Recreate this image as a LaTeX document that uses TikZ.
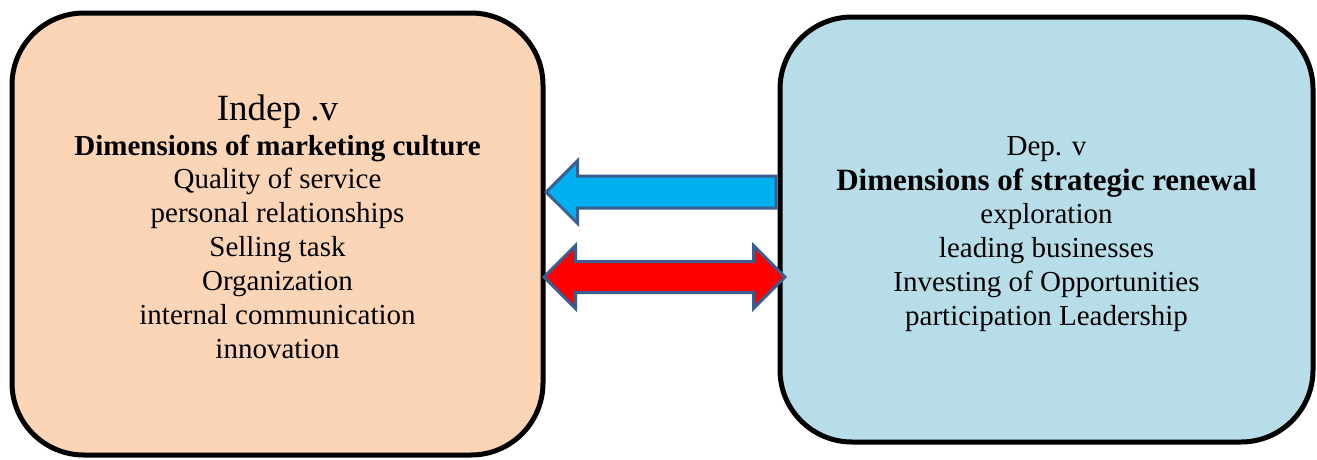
\documentclass[tikz,border=0pt]{standalone}
\usepackage{fontspec}
\setmainfont{Liberation Serif}
\usetikzlibrary{shapes.arrows}
\definecolor{peach}{HTML}{FBD5B5}
\definecolor{paleblue}{HTML}{B7DEE8}
\definecolor{skyblue}{HTML}{00B0F0}
\definecolor{arrowedge}{HTML}{3C5E8E}
\begin{document}
\begin{tikzpicture}[x=1pt,y=-1pt,
	varbox/.style={draw,line width=5pt,rounded corners=72pt,inner sep=0pt},
	line/.style={anchor=base,inner sep=0pt,font=\fontsize{29}{34}\selectfont},
	blockarrow/.style={draw=arrowedge,line width=3pt,inner xsep=0pt}]
	\useasboundingbox (0,0) rectangle (1317,459);
	\node[varbox,fill=peach,minimum width=531pt,minimum height=442pt] (indep) at (277.5,234) {};
	\node[varbox,fill=paleblue,minimum width=533pt,minimum height=425pt] (dep) at (1046.5,229.5) {};
	\node[line,font=\fontsize{37}{40}\selectfont] (indeptitle) at (277.5,120) {Indep .v};
	\node[line,font=\fontsize{29}{34}\selectfont\bfseries] (indephead) at (277.5,155) {Dimensions of marketing culture};
	\foreach \txt [count=\i] in {Quality of service,personal relationships,Selling task,Organization,internal communication,innovation}
		\node[line] (indep\i) at (277.5,154+34*\i) {\txt};
	\node[line] (deptitle) at (1046.5,155) {Dep. v};
	\node[line,font=\fontsize{31}{36}\selectfont\bfseries] (dephead) at (1046.5,190) {Dimensions of strategic renewal};
	\foreach \txt [count=\i] in {exploration,leading businesses,Investing of Opportunities,participation Leadership}
		\node[line] (dep\i) at (1046.5,189+34*\i) {\txt};
	\node[blockarrow,single arrow,fill=skyblue,shape border rotate=180,single arrow head extend=15.5pt,inner ysep=14.5pt,minimum height=230pt,anchor=tip] (effect) at (544,192) {};
	\node[blockarrow,double arrow,fill=red,double arrow head extend=16pt,inner ysep=14pt,minimum height=241pt] (link) at (664.5,277) {};
\end{tikzpicture}
\end{document}
